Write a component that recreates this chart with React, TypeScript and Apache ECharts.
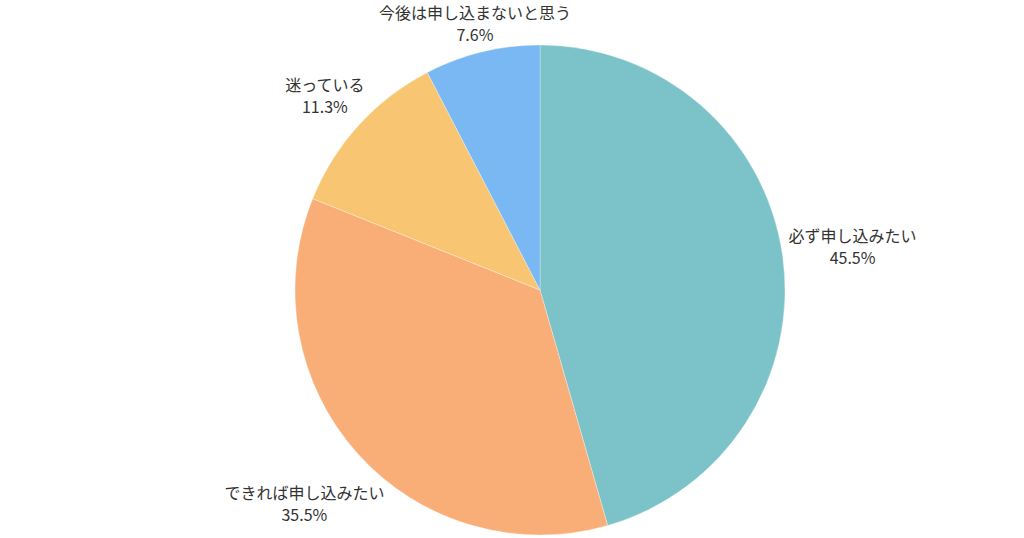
import { useEffect, useRef } from "react";
import * as echarts from "echarts";

const categories = ["必ず申し込みたい", "できれば申し込みたい", "迷っている", "今後は申し込まないと思う"];
const percents = [45.5, 35.5, 11.3, 7.6];
const colors = ["#7BC3C8", "#F9AE78", "#F8C673", "#79B8F3"];

const CX = 540;
const CY = 290;
const R = 245;
// ラベル箱と円の最短距離
const GAP = 5;

// 箱の中心を中心角方向に動かし、円に一番近い点が R + GAP になる距離を求める
function labelDistance(dx: number, dy: number, hw: number, hh: number): number {
  const nearest = (d: number) => {
    const qx = Math.max(Math.abs(dx * d) - hw, 0);
    const qy = Math.max(Math.abs(dy * d) - hh, 0);
    return Math.sqrt(qx * qx + qy * qy);
  };
  let lo = R;
  let hi = R + 400;
  for (let i = 0; i < 40; i++) {
    const mid = (lo + hi) / 2;
    if (nearest(mid) < R + GAP) lo = mid;
    else hi = mid;
  }
  return (lo + hi) / 2;
}

function buildOption(): echarts.EChartsOption {
  const total = percents.reduce((a, b) => a + b, 0);
  const mids: number[] = [];
  let acc = 0;
  for (const v of percents) {
    mids.push(((acc + v / 2) / total) * Math.PI * 2);
    acc += v;
  }
  return {
    animation: false,
    series: [
      {
        type: "pie",
        center: [CX, CY],
        radius: R,
        startAngle: 90,
        clockwise: true,
        itemStyle: { borderColor: "rgba(255,255,255,0.6)", borderWidth: 0.5 },
        label: {
          show: true,
          position: "outside",
          formatter: "{a|{b}}\n{a|{c}%}",
          color: "#333",
          fontFamily: "Noto Sans CJK JP",
          fontSize: 16,
          rich: {
            a: {
              align: "center",
              fontSize: 16,
              lineHeight: 22,
              color: "#333",
              fontFamily: "Noto Sans CJK JP",
            },
          },
        },
        labelLine: { show: false },
        emphasis: { disabled: true },
        labelLayout: (params: any) => {
          const a = mids[params.dataIndex];
          const dx = Math.sin(a);
          const dy = -Math.cos(a);
          const hw = params.labelRect.width / 2;
          const hh = params.labelRect.height / 2 - 2;
          const d = labelDistance(dx, dy, hw, hh);
          return {
            x: CX + dx * d,
            y: CY + dy * d,
            align: "center",
            verticalAlign: "middle",
          };
        },
        data: categories.map((name, i) => ({
          name,
          value: percents[i],
          itemStyle: { color: colors[i] },
        })),
      },
    ],
  };
}

export default function App() {
  const ref = useRef<HTMLDivElement | null>(null);

  useEffect(() => {
    const el = ref.current;
    if (!el) return;
    const chart = echarts.init(el, undefined, { renderer: "svg" });
    chart.setOption(buildOption());
    return () => {
      chart.dispose();
    };
  }, []);

  return (
    <div
      ref={ref}
      style={{ position: "absolute", left: 0, top: 0, width: 1024, height: 538, background: "#fff" }}
    />
  );
}
